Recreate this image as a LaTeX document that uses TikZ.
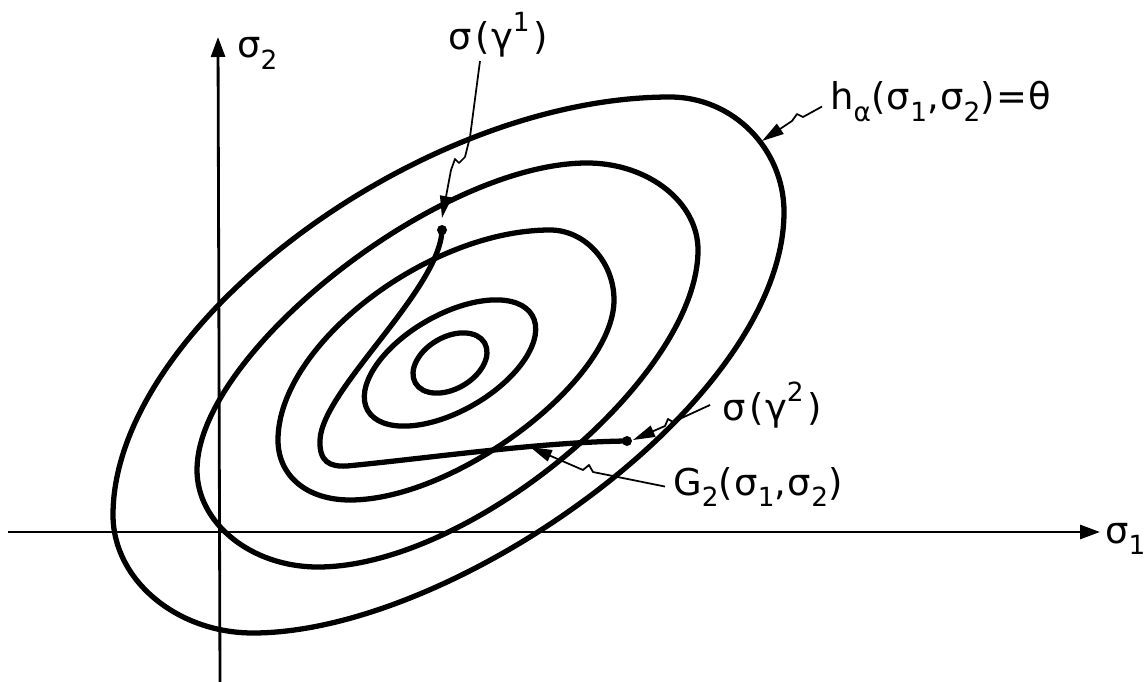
\documentclass[tikz,border=0pt]{standalone}
\usepackage{fontspec}
\setmainfont{DejaVu Sans}
\newfontfamily\labfont[LetterSpace=4]{DejaVu Sans}
\usetikzlibrary{arrows.meta}
\newcommand\mysub[1]{\raisebox{-0.55ex}{\fontsize{15}{15}\selectfont #1}}
\newcommand\mysup[1]{\raisebox{0.9ex}{\fontsize{15}{15}\selectfont #1}}
\begin{document}
\begin{tikzpicture}[x=0.02cm,y=-0.02cm,
  contour/.style={line width=3pt, line join=round, line cap=round},
  axisline/.style={line width=1.6pt, -{Triangle[length=0.4cm,width=0.28cm]}},
  leader/.style={line width=1pt, line join=round, -{Triangle[length=0.44cm,width=0.24cm]}},
  lab/.style={inner sep=0pt, font=\labfont\fontsize{21}{25}\selectfont},
  dotnode/.style={circle, fill, inner sep=0pt, minimum size=0.2cm}]
\useasboundingbox (0,0) rectangle (1146,682);

% axes
\coordinate (xs) at (8,532);
\coordinate (xe) at (1100,532);
\coordinate (ys) at (220,682);
\coordinate (ye) at (218,37);
\draw[axisline] (xs) -- (xe);
\draw[axisline] (ys) -- (ye);

% outer contour h_alpha = theta
\draw[contour] (113,515) .. controls (113,580) and (177,633) .. (253,633)
  .. controls (453,633) and (784,401) .. (784,212)
  .. controls (784,149) and (733,97) .. (670,97)
  .. controls (420,97) and (113,327) .. (113,515) -- cycle;

% second contour
\draw[contour] (197,470) .. controls (197,523) and (251,567) .. (318,567)
  .. controls (470,567) and (698,377) .. (698,250)
  .. controls (698,202) and (648,163) .. (587,163)
  .. controls (439,163) and (197,353) .. (197,470) -- cycle;

% third contour
\draw[contour] (278,440) .. controls (278,476) and (307,500) .. (350,500)
  .. controls (456,500) and (614,380) .. (614,300)
  .. controls (614,262) and (585,230) .. (550,230)
  .. controls (428,230) and (278,345) .. (278,440) -- cycle;

% fourth and innermost contours
\draw[contour, rotate around={30:(450,363)}] (450,363) ellipse[x radius=1.9cm, y radius=0.96cm];
\draw[contour, rotate around={30:(450,363)}] (450,363) ellipse[x radius=0.8cm, y radius=0.52cm];

% G2 curve between sigma(gamma^1) and sigma(gamma^2)
\node[dotnode] (p1) at (442,230) {};
\node[dotnode] (p2) at (627,441) {};
\draw[contour] (p1.center) .. controls (440,290) and (322,390) .. (320,440)
  .. controls (319,462) and (330,467) .. (347,466)
  .. controls (430,458) and (540,442) .. (p2.center);

% labels
\node[lab, anchor=base west] (lg1) at (448,50) {σ\kern2pt(γ\mysup{1}\kern2pt)};
\node[lab, anchor=base west] (lg2) at (722,420) {σ\kern2pt(γ\mysup{2}\kern2pt)};
\node[lab, anchor=base west] (lG) at (673,495) {G\mysub{2}(σ\mysub{1},σ\mysub{2})};
\node[lab, anchor=base west] (lh) at (830,110) {h\mysub{α}(σ\mysub{1},σ\mysub{2})=θ};
\node[lab, anchor=base west] (ls2) at (237,58) {σ\mysub{2}};
\node[inner sep=0pt, font=\fontsize{21}{25}\selectfont, anchor=base west] (ls1) at (1105,543) {σ\mysub{1}};

% leader tips
\coordinate (t1) at (442,218);
\coordinate (th) at (762,141);
\coordinate (t2) at (633,440);
\coordinate (tG) at (530,447);

% leaders with break marks
\draw[leader] ([xshift=-0.36cm,yshift=-0.06cm]lg1.south) -- (470,137) -- (465,157) -- (459,163) -- (455,159) -- (451,170) -- (t1);
\draw[leader] ([xshift=-0.16cm,yshift=-0.1cm]lh.west) -- (803,117) -- (797,114) -- (792,121) -- (th);
\draw[leader] ([xshift=-0.24cm]lg2.west) -- (673,422) -- (668,419) -- (665,426) -- (t2);
\draw[leader] ([xshift=-0.16cm]lG.west) -- (593,472) -- (589,465) -- (583,470) -- (tG);
\end{tikzpicture}
\end{document}
